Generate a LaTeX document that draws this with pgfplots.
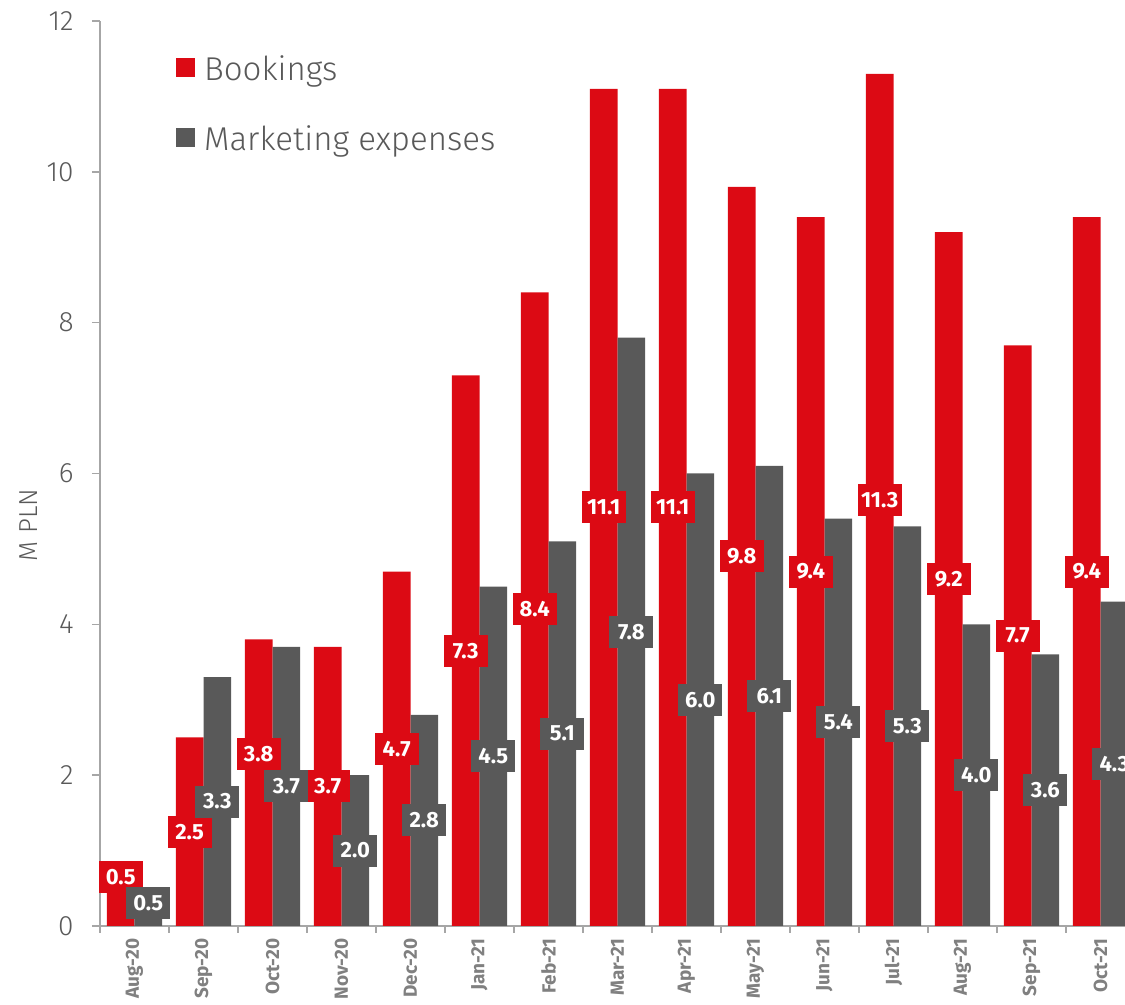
\documentclass[border=0pt]{standalone}
\usepackage{pgfplots}
\pgfplotsset{compat=1.18}
\usepackage{pgfplotstable}
\usepackage{fontspec}
\setmainfont{Fira Sans}
\newfontfamily\lightfont{Fira Sans Light}
\definecolor{bred}{RGB}{220,10,20}
\definecolor{bgray}{RGB}{89,89,89}
\definecolor{axgray}{RGB}{166,166,166}
\definecolor{lblgray}{RGB}{128,128,128}

\pgfplotstableread{
x book bly mkt mly
0 0.5 0.65 0.5 0.30
1 2.5 1.25 3.3 1.65
2 3.8 2.28 3.7 1.85
3 3.7 1.85 2.0 1.00
4 4.7 2.35 2.8 1.40
5 7.3 3.65 4.5 2.25
6 8.4 4.20 5.1 2.55
7 11.1 5.55 7.8 3.90
8 11.1 5.55 6.0 3.00
9 9.8 4.90 6.1 3.05
10 9.4 4.70 5.4 2.70
11 11.3 5.65 5.3 2.65
12 9.2 4.60 4.0 2.00
13 7.7 3.85 3.6 1.80
14 9.4 4.70 4.3 2.15
}\data

\begin{document}
\begin{tikzpicture}
\useasboundingbox (0,0) rectangle (562.5pt,502.5pt);
\begin{axis}[
  at={(50pt,39.5pt)}, anchor=south west,
  scale only axis,
  width=512.5pt, height=452.5pt,
  xmin=-0.5, xmax=14.355,
  ymin=0, ymax=12,
  clip=false,
  axis x line*=bottom, axis y line*=left,
  axis line style={draw=axgray, line width=0.8pt, -},
  tick style={draw=axgray, line width=0.8pt},
  tick align=outside,
  major tick length=4pt,
  ytick={0,2,...,12},
  xtick={0,...,14},
  xticklabels={Aug-20,Sep-20,Oct-20,Nov-20,Dec-20,Jan-21,Feb-21,Mar-21,Apr-21,May-21,Jun-21,Jul-21,Aug-21,Sep-21,Oct-21},
  x tick style={draw=none},
  minor xtick={-0.5,0.5,...,13.5},
  minor x tick style={draw=axgray, line width=0.8pt},
  minor tick length=3.5pt,
  xticklabel style={rotate=90, anchor=east, font=\fontsize{9.5}{11}\selectfont\bfseries, text=lblgray, inner sep=2pt, yshift=0pt},
  yticklabel style={font=\lightfont\fontsize{14}{16}\selectfont, text=bgray, inner sep=3pt, xshift=-6pt},
  /pgf/number format/assume math mode=true,
  ylabel={M PLN},
  ylabel style={at={(axis description cs:-0.07,0.443)}, anchor=center, font=\lightfont\fontsize{13}{15}\selectfont, text=bgray},
  legend style={at={(axis description cs:0.068,0.968)}, anchor=north west, draw=none, fill=none,
    font=\lightfont\fontsize{16.5}{19}\selectfont, text=bgray, row sep=17.5pt,
    nodes={inner sep=1pt, text height=12pt, text depth=3.5pt},
    /tikz/every odd column/.append style={column sep=3.5pt}},
  legend cell align=left,
  legend image code/.code={\path[#1, draw=none] (0pt,-2.5pt) rectangle (9.5pt,7pt);},
]
\addplot[ybar, bar width=0.4, bar shift=-0.2, fill=bred, draw=none] table[x=x, y=book] {\data};
\addlegendentry{Bookings}
\addplot[ybar, bar width=0.4, bar shift=0.2, fill=bgray, draw=none] table[x=x, y=mkt] {\data};
\addlegendentry{Marketing expenses}

\addplot[draw=none, mark=none, forget plot, point meta=explicit,
  nodes near coords={\pgfmathprintnumber[fixed, fixed zerofill, precision=1]{\pgfplotspointmeta}},
  every node near coord/.style={anchor=center, fill=bred, text=white, font=\fontsize{11}{12}\selectfont\bfseries, minimum width=22pt, minimum height=16pt, inner sep=0pt}]
  table[x expr=\thisrow{x}-0.2, y=bly, meta=book] {\data};
\addplot[draw=none, mark=none, forget plot, point meta=explicit,
  nodes near coords={\pgfmathprintnumber[fixed, fixed zerofill, precision=1]{\pgfplotspointmeta}},
  every node near coord/.style={anchor=center, fill=bgray, text=white, font=\fontsize{11}{12}\selectfont\bfseries, minimum width=22pt, minimum height=16pt, inner sep=0pt}]
  table[x expr=\thisrow{x}+0.2, y=mly, meta=mkt] {\data};
\end{axis}
\end{tikzpicture}
\end{document}
